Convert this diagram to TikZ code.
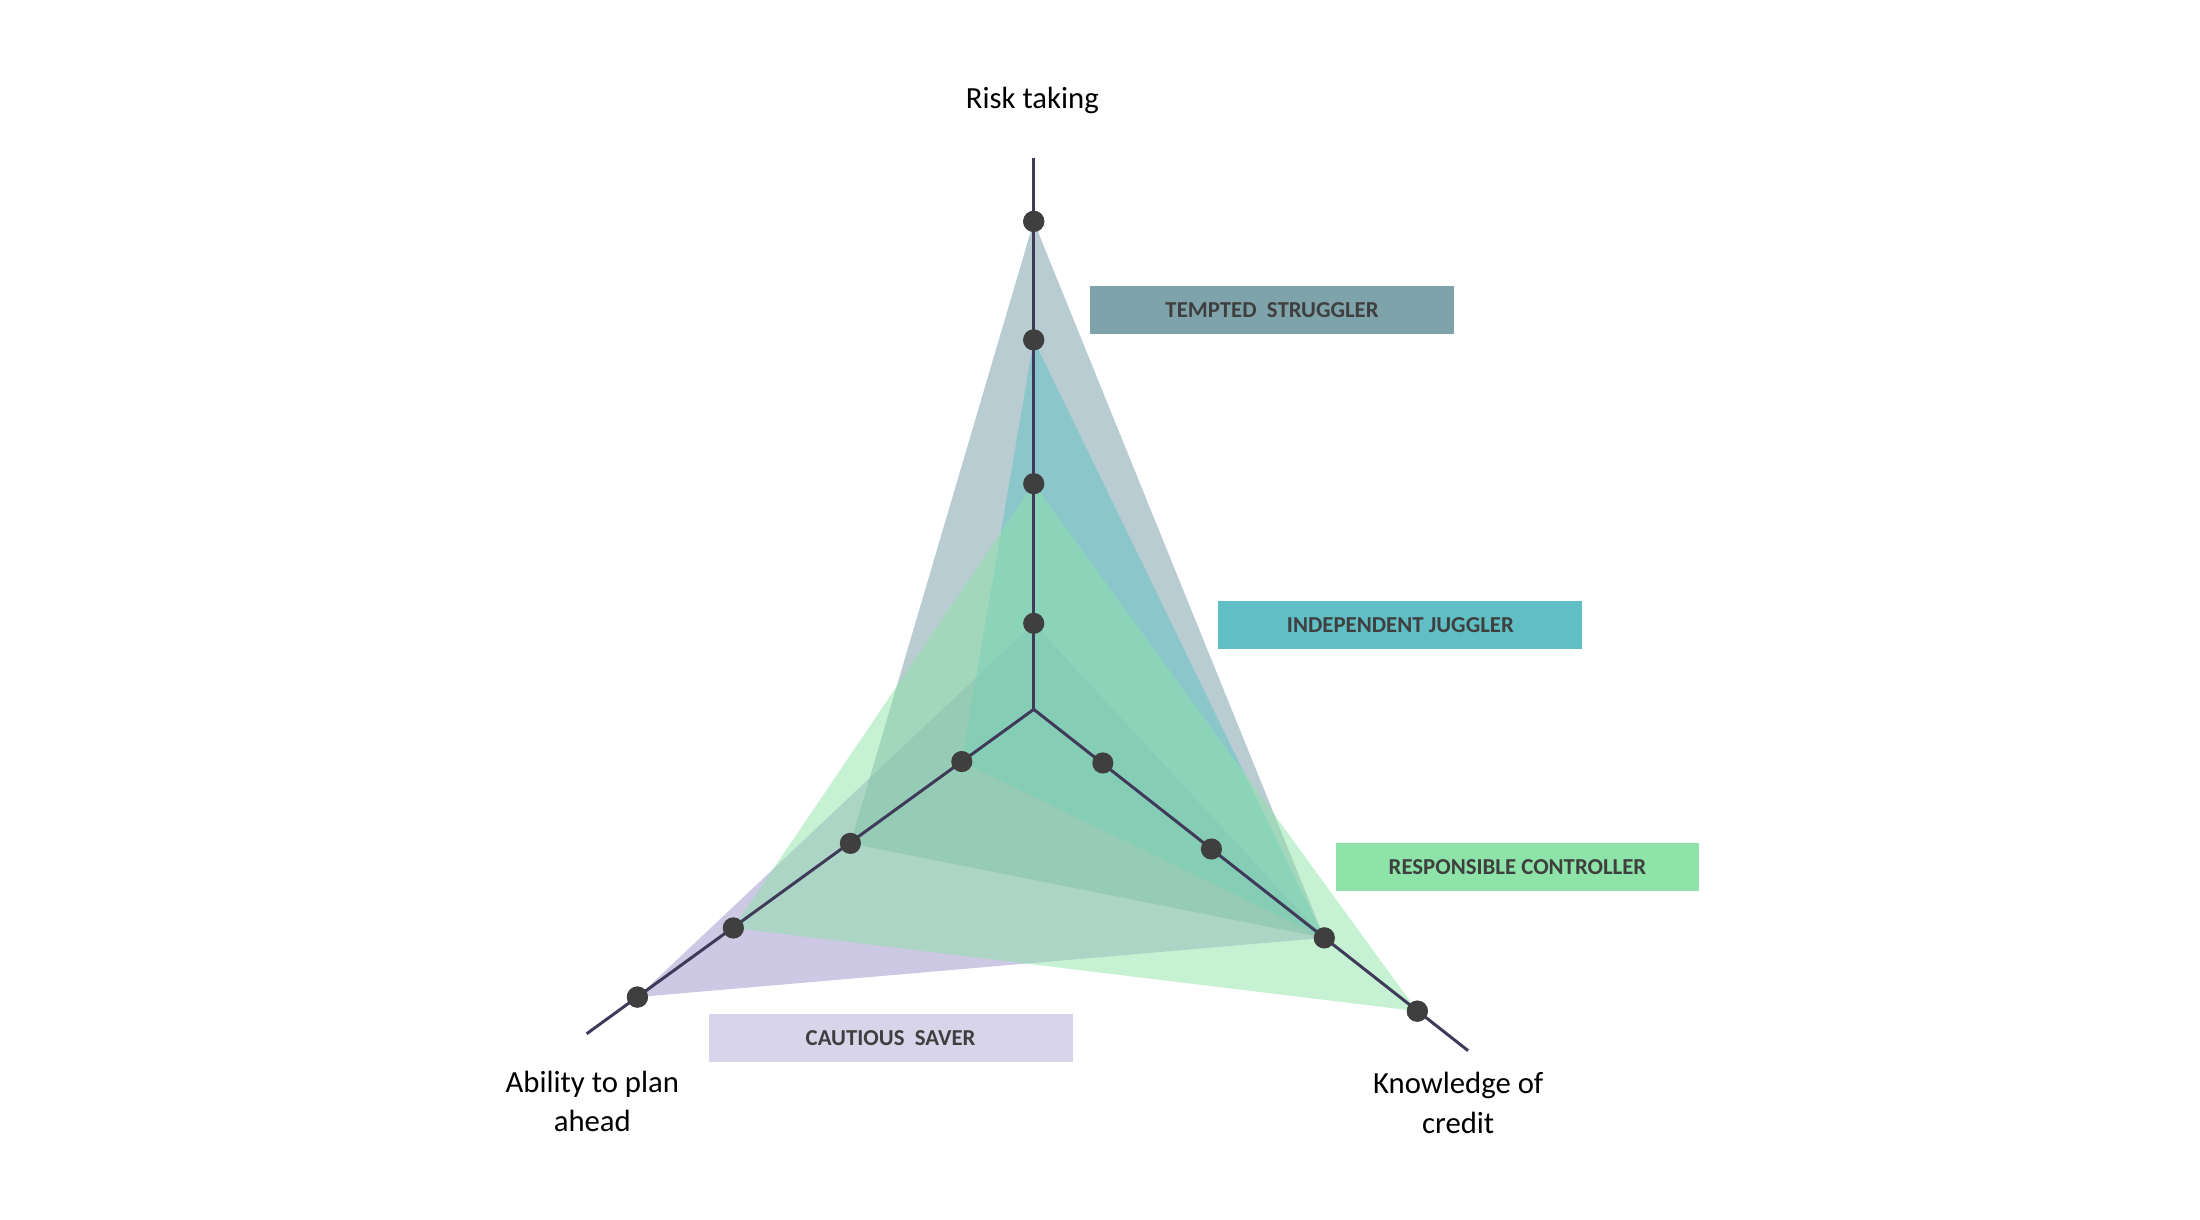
\documentclass[tikz,border=0pt]{standalone}
\usepackage{fontspec}
\setmainfont{Carlito}
\usetikzlibrary{positioning}
\definecolor{axiscol}{HTML}{3F3A5A}
\definecolor{dotcol}{HTML}{3F3F3F}
\definecolor{strugcol}{HTML}{7FA3AB}
\definecolor{juggcol}{HTML}{5FBFC4}
\definecolor{contcol}{HTML}{8DE3A8}
\definecolor{savecol}{HTML}{B8B0D8}
\definecolor{savebox}{HTML}{D8D4EA}
\tikzstyle{dot} = [circle, fill=dotcol, inner sep=0pt, minimum size=0.15cm]
\tikzstyle{axis} = [draw=axiscol, line width=0.6pt]
\tikzstyle{tag} = [minimum width=2.58cm, minimum height=0.34cm, inner sep=0pt,
    font=\fontsize{4.6}{5}\selectfont\bfseries, text=dotcol]
\tikzstyle{axlabel} = [align=center, font=\fontsize{6.2}{8}\selectfont, text=black]
\begin{document}
\begin{tikzpicture}
    \useasboundingbox (0,0) rectangle (15.6,8.65);
    % Place axes
    \coordinate (c) at (7.33,3.62);
    \coordinate (rend) at (7.33,7.53);
    \coordinate (pend) at (4.16,1.32);
    \coordinate (kend) at (10.41,1.20);
    \node [dot] (r1) at (7.33,7.08) {};
    \node [dot] (r2) at (7.33,6.24) {};
    \node [dot] (r3) at (7.33,5.22) {};
    \node [dot] (r4) at (7.33,4.23) {};
    \node [dot] (p1) at (6.82,3.25) {};
    \node [dot] (p2) at (6.03,2.67) {};
    \node [dot] (p3) at (5.20,2.07) {};
    \node [dot] (p4) at (4.52,1.58) {};
    \node [dot] (k1) at (7.82,3.24) {};
    \node [dot] (k2) at (8.59,2.63) {};
    \node [dot] (k3) at (9.39,2.00) {};
    \node [dot] (k4) at (10.05,1.48) {};
    % Draw profiles
    \fill [savecol, opacity=0.7] (r4.center) -- (p4.center) -- (k3.center) -- cycle;
    \fill [strugcol, opacity=0.55] (r1.center) -- (p2.center) -- (k3.center) -- cycle;
    \fill [juggcol, opacity=0.5] (r2.center) -- (p1.center) -- (k3.center) -- cycle;
    \fill [contcol, opacity=0.5] (r3.center) -- (p3.center) -- (k4.center) -- cycle;
    % Draw axes
    \path [axis] (c) -- (rend);
    \path [axis] (c) -- (pend);
    \path [axis] (c) -- (kend);
    \foreach \n in {r1,r2,r3,r4,p1,p2,p3,p4,k1,k2,k3,k4}
        \node [dot] at (\n) {};
    % Labels
    \node [axlabel] (risk) at (7.32,7.94) {Risk taking};
    \node [axlabel] (plan) at (4.20,0.84) {Ability to plan\\ahead};
    \node [axlabel] (know) at (10.34,0.83) {Knowledge of\\credit};
    \node [tag, fill=strugcol] (ts) at (9.02,6.45) {TEMPTED\ \ STRUGGLER};
    \node [tag, fill=juggcol] (ij) at (9.93,4.22) {INDEPENDENT JUGGLER};
    \node [tag, fill=contcol] (rc) at (10.76,2.50) {RESPONSIBLE CONTROLLER};
    \node [tag, fill=savebox] (cs) at (6.315,1.29) {CAUTIOUS\ \ SAVER};
\end{tikzpicture}
\end{document}
